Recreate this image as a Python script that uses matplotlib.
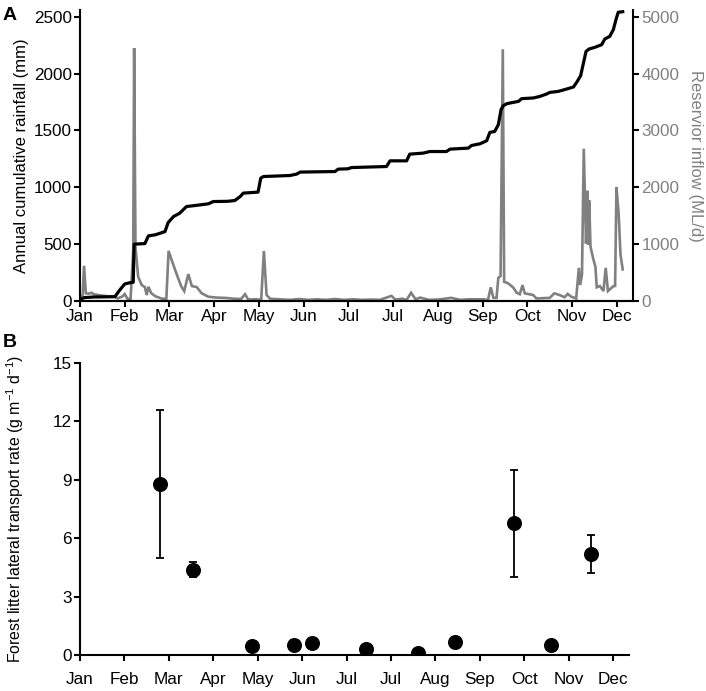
import matplotlib
matplotlib.use("Agg")
import matplotlib.pyplot as plt
from matplotlib import font_manager as fm

# ---------------- data ----------------
month_labels = ['Jan', 'Feb', 'Mar', 'Apr', 'May', 'Jun', 'Jul', 'Jul', 'Aug', 'Sep', 'Oct', 'Nov', 'Dec']
month_ticks = list(range(13))

# cumulative rainfall (x in month units, mm)
rain_x = [0.03, 0.10, 0.30, 0.78, 0.89, 1.00, 1.12, 1.19, 1.21, 1.45, 1.53, 1.68, 1.79, 1.90, 1.97,
          2.09, 2.23, 2.38, 2.57, 2.87, 2.98, 3.30, 3.46, 3.58, 3.65, 3.98, 4.04, 4.10, 4.69, 4.84,
          4.92, 5.70, 5.77, 5.99, 6.07, 6.85, 6.93, 7.30, 7.37, 7.67, 7.82, 8.19, 8.27, 8.68, 8.75,
          8.94, 9.09, 9.16, 9.27, 9.35, 9.41, 9.46, 9.54, 9.68, 9.80, 9.87, 10.13, 10.28, 10.43,
          10.50, 10.69, 10.88, 11.03, 11.10, 11.19, 11.31, 11.38, 11.51, 11.66, 11.73, 11.84,
          11.92, 11.99, 12.03, 12.13]
rain_y = [20, 30, 35, 38, 97, 150, 161, 165, 500, 505, 573, 582, 596, 611, 690,
          743, 773, 831, 840, 855, 875, 877, 884, 919, 949, 958, 1081, 1095, 1104, 1116,
          1134, 1139, 1160, 1163, 1174, 1183, 1233, 1233, 1292, 1301, 1315, 1315, 1336, 1345, 1368,
          1383, 1410, 1483, 1492, 1551, 1683, 1718, 1736, 1747, 1756, 1780, 1786, 1800, 1821,
          1835, 1844, 1865, 1883, 1923, 1982, 2196, 2217, 2232, 2255, 2305, 2328,
          2387, 2490, 2540, 2545]

# reservoir inflow (x in month units, ML/d)
inflow_x = [0.02, 0.06, 0.09, 0.13, 0.20, 0.26, 0.30, 0.45, 0.60, 0.78, 0.84, 0.95, 1.00, 1.06, 1.13,
            1.19, 1.21, 1.24, 1.30, 1.38, 1.45, 1.49, 1.53, 1.59, 1.68, 1.83, 1.93, 1.98, 2.05, 2.16,
            2.26, 2.33, 2.42, 2.50, 2.61, 2.72, 2.87, 3.05, 3.24, 3.45, 3.60, 3.69, 3.76, 3.90, 4.05,
            4.11, 4.17, 4.25, 4.45, 4.70, 4.90, 5.10, 5.30, 5.50, 5.70, 5.90, 6.10, 6.30, 6.50, 6.70,
            6.96, 7.05, 7.20, 7.30, 7.40, 7.50, 7.60, 7.80, 8.00, 8.30, 8.50, 8.70, 9.00, 9.12, 9.18,
            9.24, 9.31, 9.35, 9.40, 9.45, 9.48, 9.57, 9.68, 9.76, 9.83, 9.89, 9.94, 10.13, 10.20, 10.35,
            10.50, 10.60, 10.72, 10.83, 10.90, 10.98, 11.09, 11.15, 11.18, 11.22, 11.26, 11.31, 11.34,
            11.36, 11.38, 11.41, 11.47, 11.52, 11.55, 11.62, 11.70, 11.75, 11.80, 11.92, 11.96, 11.99,
            12.04, 12.08, 12.13]
inflow_y = [60, 110, 620, 135, 130, 145, 120, 100, 85, 75, 45, 80, 122, 40, 35,
            900, 4450, 950, 425, 280, 245, 105, 250, 140, 85, 40, 40, 880, 718, 473,
            263, 175, 473, 263, 245, 135, 75, 60, 55, 40, 35, 120, 25, 30, 25,
            880, 105, 40, 30, 20, 35, 20, 30, 20, 35, 20, 30, 20, 25, 20,
            90, 25, 40, 20, 145, 30, 60, 20, 25, 55, 20, 30, 30, 20, 240,
            55, 55, 408, 440, 4430, 338, 310, 240, 145, 120, 280, 135, 105, 45, 50,
            55, 135, 105, 65, 125, 75, 45, 583, 280, 470, 2680, 1010, 1940,
            990, 1770, 960, 745, 600, 240, 263, 175, 583, 175, 260, 265, 2000,
            1530, 820, 555]

# litter transport (panel B)
litter_x = [1.79, 2.54, 3.87, 4.82, 5.23, 6.44, 7.62, 8.45, 9.76, 10.60, 11.50]
litter_y = [8.80, 4.37, 0.46, 0.51, 0.63, 0.31, 0.12, 0.65, 6.77, 0.51, 5.18]
litter_err_low = [3.83, 0.37, 0.0, 0.25, 0.0, 0.0, 0.0, 0.0, 2.74, 0.0, 0.98]
litter_err_high = [3.80, 0.40, 0.0, 0.25, 0.0, 0.0, 0.0, 0.0, 2.75, 0.0, 0.96]

# ---------------- fonts ----------------
def has_font(name):
    try:
        fm.findfont(fm.FontProperties(family=name), fallback_to_default=False)
        return True
    except Exception:
        return False

narrow = has_font('Liberation Sans Narrow')
fam = ['Liberation Sans Narrow', 'DejaVu Sans'] if narrow else ['Liberation Sans', 'DejaVu Sans']
plt.rcParams['font.family'] = fam
plt.rcParams['mathtext.fontset'] = 'custom'
plt.rcParams['mathtext.rm'] = fam[0]
plt.rcParams['mathtext.default'] = 'regular'

tick_fs = 13.4 if narrow else 12.3
lab_fs = 13 if narrow else 12
labB_fs = 12.5 if narrow else 11.4

gray = '#808080'
W, H = 706, 691
fig = plt.figure(figsize=(W / 100, H / 100), dpi=100)

def fx(px):
    return px / W

def fy(py):
    return 1 - py / H

# ---------------- panel A ----------------
axA = fig.add_axes([fx(80), fy(301), fx(633) - fx(80), fy(10) - fy(301)])
axA2 = axA.twinx()
axA2.plot(inflow_x, inflow_y, color=gray, lw=1.9, solid_joinstyle='miter', zorder=2)
axA.plot(rain_x, rain_y, color='black', lw=2.3, zorder=3)
axA.set_zorder(axA2.get_zorder() + 1)
axA.patch.set_visible(False)

axA.set_xlim(0, 12.36)
axA.set_ylim(0, 2560)
axA2.set_ylim(0, 5120)
axA.set_xticks(month_ticks)
axA.set_xticklabels(month_labels)
axA.set_yticks([0, 500, 1000, 1500, 2000, 2500])
axA2.set_yticks([0, 1000, 2000, 3000, 4000, 5000])

for ax in (axA, axA2):
    ax.spines['top'].set_visible(False)
    for s in ('left', 'right', 'bottom'):
        ax.spines[s].set_linewidth(1.5)
axA2.spines['left'].set_visible(False)
axA.spines['right'].set_visible(False)

axA.tick_params(axis='both', direction='out', length=4, width=1.5, labelsize=tick_fs, pad=2)
axA2.tick_params(axis='y', direction='out', length=4, width=1.5, labelsize=tick_fs,
                 labelcolor=gray, pad=2)
axA.set_ylabel('Annual cumulative rainfall (mm)', fontsize=lab_fs, labelpad=3)
axA2.set_ylabel('Reservior inflow (ML/d)', fontsize=lab_fs, color=gray, rotation=270,
                labelpad=17)

fig.text(fx(3), fy(15), 'A', fontsize=14, fontweight='bold', family='Liberation Sans',
         va='center', ha='left')

# ---------------- panel B ----------------
axB = fig.add_axes([fx(80), fy(655), fx(629) - fx(80), fy(363) - fy(655)])
axB.errorbar(litter_x, litter_y, yerr=[litter_err_low, litter_err_high], fmt='o',
             color='black', ms=9.8, elinewidth=1.3, capsize=3, capthick=1.3, zorder=3)
axB.set_xlim(0, 12.36)
axB.set_ylim(0, 15)
axB.set_xticks(month_ticks)
axB.set_xticklabels(month_labels)
axB.set_yticks([0, 3, 6, 9, 12, 15])
axB.spines['top'].set_visible(False)
axB.spines['right'].set_visible(False)
for s in ('left', 'bottom'):
    axB.spines[s].set_linewidth(1.5)
axB.tick_params(axis='both', direction='out', length=4, width=1.5, labelsize=tick_fs, pad=2)
axB.tick_params(axis='x', pad=8)
axB.set_ylabel('Forest litter lateral transport rate (g m$^{-1}$ d$^{-1}$)', fontsize=labB_fs,
               labelpad=19)

fig.text(fx(3), fy(342), 'B', fontsize=14, fontweight='bold', family='Liberation Sans',
         va='center', ha='left')

fig.savefig('out.png', dpi=100)
